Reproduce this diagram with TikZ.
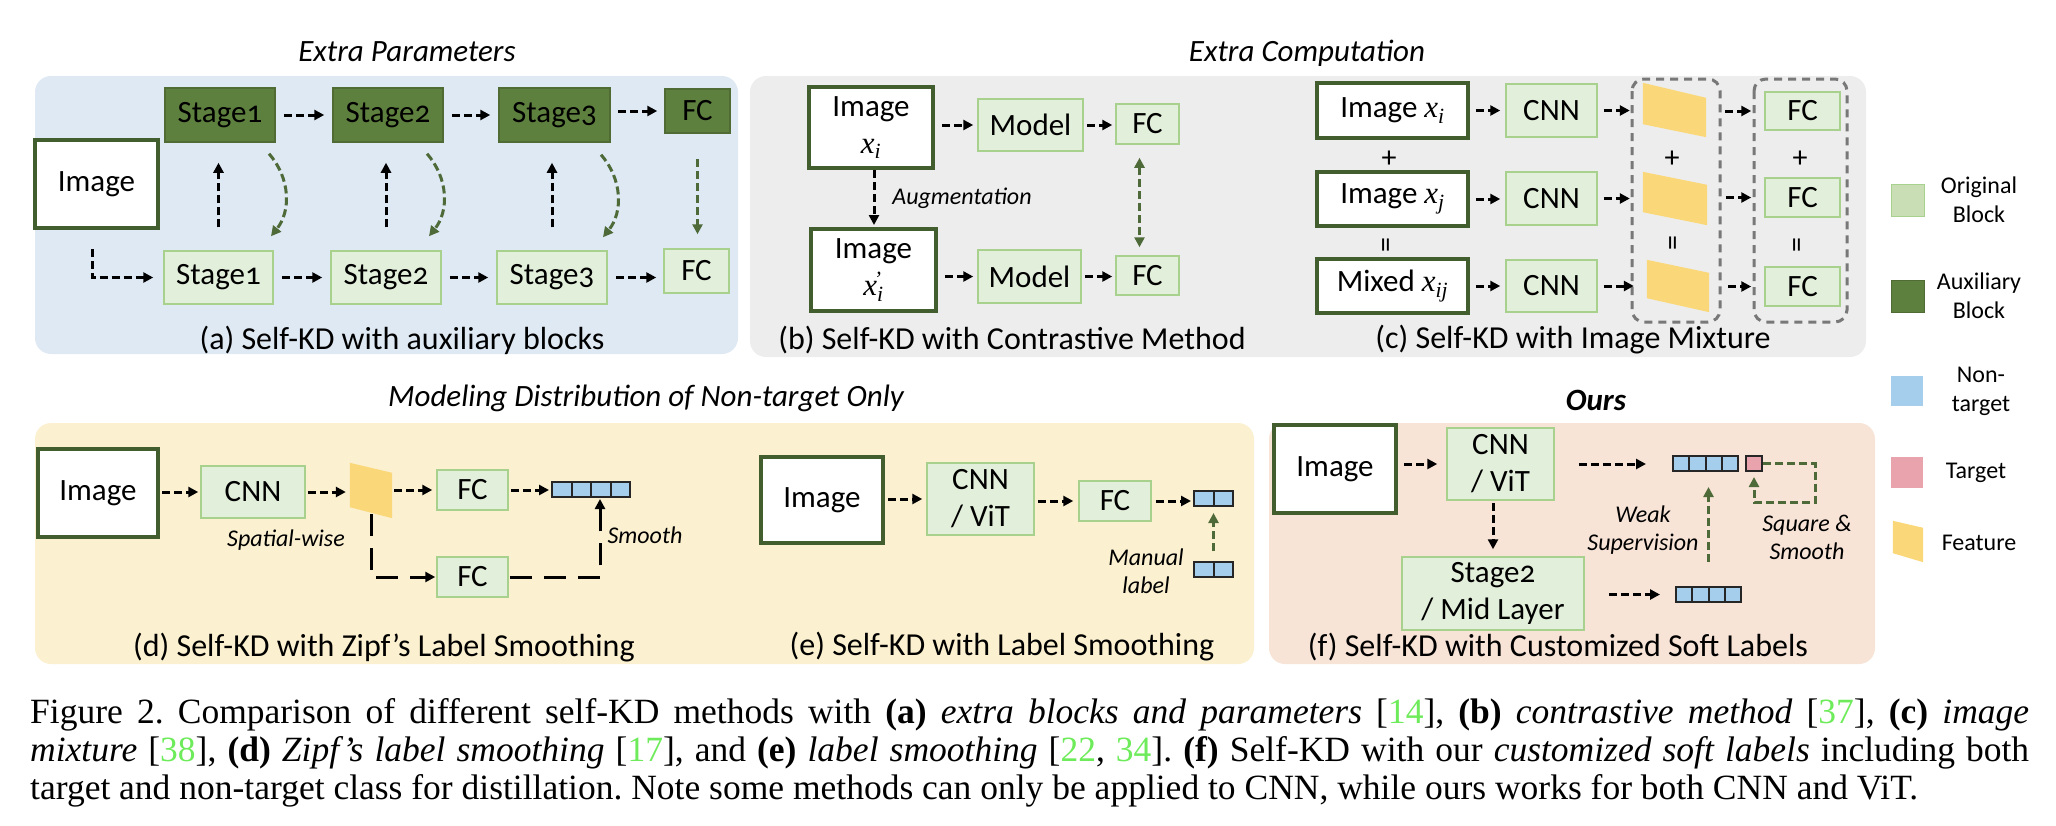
\documentclass[tikz,border=0pt]{standalone}
\usepackage{fontspec}
\setmainfont{Carlito}
\newfontfamily\tnr{Liberation Serif}
\usetikzlibrary{arrows.meta,calc}

\definecolor{bgA}{RGB}{222,233,244}
\definecolor{bgB}{RGB}{237,237,237}
\definecolor{bgD}{RGB}{251,240,207}
\definecolor{bgF}{RGB}{248,228,214}
\definecolor{origF}{RGB}{226,239,218}
\definecolor{origD}{RGB}{169,209,142}
\definecolor{auxF}{RGB}{94,128,62}
\definecolor{auxD}{RGB}{80,108,52}
\definecolor{imgD}{RGB}{66,94,46}
\definecolor{gArr}{RGB}{78,106,56}
\definecolor{cellF}{RGB}{164,206,236}
\definecolor{tgtF}{RGB}{232,163,172}
\definecolor{featF}{RGB}{250,216,122}
\definecolor{boxG}{RGB}{120,120,120}
\definecolor{citeG}{RGB}{110,235,90}
\definecolor{legO}{RGB}{201,222,181}

\newcommand{\os}[1]{{\addfontfeatures{Numbers=OldStyle}#1}}
\newcommand{\xv}[1]{{\tnr\itshape x\textsubscript{#1}}}
\newcommand{\xvp}{{\tnr\itshape x\textsubscript{i}\llap{\textsuperscript{’}\hspace{2pt}}}}
\newcommand{\cg}[1]{\textcolor{citeG}{#1}}
\newcommand{\feat}[3]{\fill[featF] (#1.north west) -- ($(#1.north east)+(0,#2)$) -- (#1.south east) -- ($(#1.south west)+(0,-#3)$) -- cycle;}

\tikzset{
 txt/.style={font=\fontsize{31}{37}\selectfont, align=center, inner sep=0pt},
 orig/.style={txt, rectangle, fill=origF, draw=origD, line width=1.5pt},
 aux/.style={txt, rectangle, fill=auxF, draw=auxD, line width=1.5pt},
 img/.style={txt, rectangle, fill=white, draw=imgD, line width=4pt},
 ttl/.style={font=\fontsize{31}{35}\selectfont\itshape, inner sep=0pt},
 sub/.style={font=\fontsize{32}{36}\selectfont, inner sep=0pt},
 lbl/.style={font=\fontsize{24}{28}\selectfont\itshape, inner sep=0pt, align=center},
 leg/.style={font=\fontsize{24}{29}\selectfont, inner sep=0pt, align=center},
 sym/.style={font=\fontsize{30}{30}\selectfont, inner sep=0pt},
 arr/.style={draw=black, line width=3pt, dash pattern=on 8pt off 4pt, -{Triangle[length=10pt,width=10pt]}},
 garr/.style={draw=gArr, line width=3pt, dash pattern=on 8pt off 4pt, -{Triangle[length=10pt,width=10pt]}},
 longarr/.style={draw=black, line width=3pt, dash pattern=on 22pt off 12pt, -{Triangle[length=10pt,width=10pt]}},
 cellv/.style={rectangle, fill=cellF, draw=black!85, line width=2pt, minimum height=15pt, inner sep=0pt},
 cfour/.style={cellv, path picture={\foreach \k in {1,2,3}{\draw[line width=2pt, black!85] ($(path picture bounding box.south west)!\k/4!(path picture bounding box.south east)$) -- ($(path picture bounding box.north west)!\k/4!(path picture bounding box.north east)$);}}},
 ctwo/.style={cellv, path picture={\draw[line width=2pt, black!85] (path picture bounding box.south) -- (path picture bounding box.north);}},
 grp/.style={draw=boxG, line width=3pt, dash pattern=on 8pt off 6pt, rounded corners=12pt},
 ghost/.style={inner sep=0pt, rectangle},
 capl/.style={anchor=base west, inner sep=0pt, font=\tnr\fontsize{35.5}{38}\selectfont\frenchspacing},
}

\begin{document}
\begin{tikzpicture}[x=1pt,y=-1pt]
\useasboundingbox (0,0) rectangle (2056,825);

% ---------------- panel a
\fill[bgA, rounded corners=16pt] (35,76) rectangle (738,354);
\node[ttl] (tA) at (407,52) {Extra Parameters};
\node[img, minimum width=123pt, minimum height=88pt] (imA) at (96.5,184) {Image};
\node[aux, minimum width=110pt, minimum height=54pt] (a1) at (220,115) {Stage\os{1}};
\node[aux, minimum width=110pt, minimum height=54pt] (a2) at (388,115) {Stage\os{2}};
\node[aux, minimum width=111pt, minimum height=54pt] (a3) at (554.5,115) {Stage\os{3}};
\node[aux, minimum width=65pt, minimum height=44pt] (afc) at (697.5,111) {FC};
\node[orig, minimum width=109pt, minimum height=53pt] (b1) at (218.5,277.5) {Stage\os{1}};
\node[orig, minimum width=110pt, minimum height=53pt] (b2) at (386,277.5) {Stage\os{2}};
\node[orig, minimum width=110pt, minimum height=53pt] (b3) at (552,277.5) {Stage\os{3}};
\node[orig, minimum width=65pt, minimum height=44pt] (bfc) at (696.5,271) {FC};
\draw[arr, shorten <=8pt, shorten >=8pt] (a1) -- (a2);
\draw[arr, shorten <=8pt, shorten >=8pt] (a2) -- (a3);
\draw[arr, shorten <=7pt, shorten >=7pt] (a3.east |- afc.west) -- (afc.west);
\draw[arr, shorten <=8pt, shorten >=8pt] (b1) -- (b2);
\draw[arr, shorten <=8pt, shorten >=8pt] (b2) -- (b3);
\draw[arr, shorten <=8pt, shorten >=7pt] (b3.east) -- (b3.east -| bfc.west);
\draw[arr, shorten <=23pt, shorten >=20pt] (b1.north) -- (b1.north |- a1.south);
\draw[arr, shorten <=23pt, shorten >=20pt] (b2.north) -- (b2.north |- a2.south);
\draw[arr, shorten <=23pt, shorten >=20pt] (b3.north) -- (b3.north |- a3.south);
\draw[garr] ($(a1.south)+(49,11)$) to[bend left=40] ($(b1.north)+(52.5,-14)$);
\draw[garr] ($(a2.south)+(39,11)$) to[bend left=40] ($(b2.north)+(43,-14)$);
\draw[garr] ($(a3.south)+(46.5,12)$) to[bend left=40] ($(b3.north)+(51,-13)$);
\draw[garr, shorten <=25pt, shorten >=14pt] (afc.south) -- (afc.south |- bfc.north);
\draw[arr, shorten >=10pt] ($(imA.south)+(-4.5,19)$) |- (b1.west);
\node[sub] (capA) at (402,340) {(a) Self-KD with auxiliary blocks};

% ---------------- panel b
\fill[bgB, rounded corners=16pt] (750,76) rectangle (1866,357);
\node[ttl] (tB) at (1307,53) {Extra Computation};
\node[img, minimum width=124pt, minimum height=81pt] (ib1) at (871,127.5) {Image\\\xv{i}};
\node[orig, minimum width=105pt, minimum height=52pt] (mb1) at (1030.5,125) {Model};
\node[orig, minimum width=63pt, minimum height=40pt] (fb1) at (1147.5,124) {FC};
\node[img, minimum width=125pt, minimum height=82pt] (ib2) at (873.5,270) {Image\\\xvp};
\node[orig, minimum width=103pt, minimum height=53pt] (mb2) at (1029.5,276.5) {Model};
\node[orig, minimum width=63pt, minimum height=39pt] (fb2) at (1147.5,275.5) {FC};
\draw[arr, shorten <=7pt, shorten >=4pt] (ib1.east |- mb1.west) -- (mb1.west);
\draw[arr, shorten <=3pt, shorten >=3pt] (mb1.east) -- (mb1.east -| fb1.west);
\draw[arr, shorten <=7pt, shorten >=4pt] (ib2.east |- mb2.west) -- (mb2.west);
\draw[arr, shorten <=3pt, shorten >=3pt] (mb2.east) -- (mb2.east -| fb2.west);
\coordinate (augS) at ($(ib1.south)+(3,0)$);
\draw[arr, shorten >=2pt] (augS) -- (augS |- ib2.north);
\node[lbl] (aug) at (962,198) {Augmentation};
\coordinate (dblS) at ($(fb1.south)+(-8,0)$);
\draw[garr, {Triangle[length=10pt,width=10pt]}-{Triangle[length=10pt,width=10pt]}, shorten <=13pt, shorten >=8pt] (dblS) -- (dblS |- fb2.north);
\node[sub] (capB) at (1012,340) {(b) Self-KD with Contrastive Method};

% ---------------- panel c
\node[img, minimum width=151pt, minimum height=55pt] (ic1) at (1392.5,110.5) {Image \xv{i}};
\node[img, minimum width=151pt, minimum height=54pt] (ic2) at (1392.5,199) {Image \xv{j}};
\node[img, minimum width=151pt, minimum height=54pt] (ic3) at (1392.5,286) {Mixed \xv{ij}};
\node[sym] (pc1) at (1389,159) {+};
\node[sym, rotate=90] (ec1) at (1389,245) {=};
\node[orig, minimum width=91pt, minimum height=53pt] (cc1) at (1551.5,110.5) {CNN};
\node[orig, minimum width=91pt, minimum height=53pt] (cc2) at (1551.5,198.5) {CNN};
\node[orig, minimum width=91pt, minimum height=52pt] (cc3) at (1551.5,286) {CNN};
\node[ghost, minimum width=63pt, minimum height=54pt] (fe1) at (1674.5,110) {};
\node[ghost, minimum width=64pt, minimum height=53pt] (fe2) at (1675,198.5) {};
\node[ghost, minimum width=62pt, minimum height=52pt] (fe3) at (1678,286) {};
\feat{fe1}{15}{13}
\feat{fe2}{13}{13}
\feat{fe3}{13}{14}
\node[sym] (pc2) at (1672,159) {+};
\node[sym, rotate=90] (ec2) at (1676,243) {=};
\node[orig, minimum width=75pt, minimum height=38pt] (fc1) at (1802.5,111) {FC};
\node[orig, minimum width=75pt, minimum height=39pt] (fc2) at (1802.5,197.5) {FC};
\node[orig, minimum width=75pt, minimum height=39pt] (fc3) at (1802.5,286.5) {FC};
\node[sym] (pc3) at (1800,159) {+};
\node[sym, rotate=90] (ec3) at (1800,245) {=};
\draw[grp] (1632,79) rectangle (1720,322);
\draw[grp] (1754,79) rectangle (1847,322);
\foreach \k in {1,2,3}{
  \draw[arr, shorten <=6pt, shorten >=5pt] (ic\k.east) -- (ic\k.east -| cc\k.west);
  \draw[arr, shorten <=6pt, shorten >=13pt] (cc\k.east) -- (cc\k.east -| fe\k.west);
  \draw[arr, shorten <=19pt, shorten >=13pt] (fe\k.east |- fc\k.west) -- (fc\k.west);
}
\node[sub] (capC) at (1573,340) {(c) Self-KD with Image Mixture};

% ---------------- legend
\node[rectangle, fill=legO, draw=origD, line width=1pt, minimum width=33pt, minimum height=32pt] (lo) at (1907.5,200) {};
\node[leg] (lot) at (1979,200) {Original\\Block};
\node[rectangle, fill=auxF, draw=auxD, line width=1pt, minimum width=33pt, minimum height=32pt] (la) at (1907.5,296) {};
\node[leg] (lat) at (1979,296) {Auxiliary\\Block};
\node[rectangle, fill=cellF, minimum width=32pt, minimum height=30pt] (ln) at (1907,391) {};
\node[leg] (lnt) at (1981,391) {Non-\\target};
\node[rectangle, fill=tgtF, minimum width=32pt, minimum height=31pt] (lt) at (1907,472.5) {};
\node[leg] (ltt) at (1976,473) {Target};
\node[ghost, minimum width=30pt, minimum height=41pt] (lf) at (1908,541.5) {};
\feat{lf}{7}{9}
\node[leg] (lft) at (1979,543) {Feature};

% ---------------- panel d
\fill[bgD, rounded corners=16pt] (35,423) rectangle (1254,664);
\node[ttl] (tD) at (646,398) {Modeling Distribution of Non-target Only};
\node[img, minimum width=120pt, minimum height=88pt] (id) at (98,493) {Image};
\node[orig, minimum width=104pt, minimum height=52pt] (cd) at (253,492) {CNN};
\node[ghost, minimum width=42pt, minimum height=55pt] (fd) at (371,490.5) {};
\feat{fd}{10}{11}
\node[orig, minimum width=71pt, minimum height=40pt] (fd1) at (472.5,490) {FC};
\node[cfour, minimum width=78pt] (vd) at (591,489.5) {};
\node[orig, minimum width=71pt, minimum height=40pt] (fd2) at (472.5,577) {FC};
\draw[arr, shorten <=2pt, shorten >=2pt] (id.east |- cd.west) -- (cd.west);
\draw[arr, shorten <=2pt, shorten >=4pt] (cd.east) -- (cd.east -| fd.west);
\draw[arr, shorten <=2pt, shorten >=4pt] (fd.east |- fd1.west) -- (fd1.west);
\draw[arr, shorten <=2pt, shorten >=2pt] (fd1.east) -- (fd1.east -| vd.west);
\draw[longarr, shorten >=1pt] ($(fd.south)+(0,-4)$) |- (fd2.west);
\coordinate (vdS) at ($(vd.south)+(9,0)$);
\draw[longarr, shorten <=1pt, shorten >=1pt] (fd2.east) -| (vdS);
\node[lbl] (spw) at (286,540) {Spatial-wise};
\node[lbl] (smo) at (645,535) {Smooth};
\node[sub] (capD) at (384,648) {(d) Self-KD with Zipf’s Label Smoothing};

% ---------------- panel e
\node[img, minimum width=122pt, minimum height=86pt] (ie) at (822,500) {Image};
\node[orig, minimum width=107pt, minimum height=72pt] (ce) at (980.5,499) {CNN\\/ ViT};
\node[orig, minimum width=72pt, minimum height=40pt] (fce) at (1115,501) {FC};
\node[ctwo, minimum width=39pt] (ve1) at (1213.5,498.5) {};
\node[ctwo, minimum width=39pt] (ve2) at (1213.5,569.5) {};
\draw[arr, shorten <=3pt, shorten >=4pt] (ie.east |- ce.west) -- (ce.west);
\draw[arr, shorten <=3pt, shorten >=5pt] (ce.east |- fce.west) -- (fce.west);
\draw[arr, shorten <=4pt, shorten >=2pt] (fce.east) -- (fce.east -| ve1.west);
\draw[garr, shorten <=10pt, shorten >=6pt] (ve2.north) -- (ve1.south);
\node[lbl] (ml) at (1146,571) {Manual\\label};
\node[sub] (capE) at (1002,647) {(e) Self-KD with Label Smoothing};

% ---------------- panel f
\fill[bgF, rounded corners=16pt] (1269,423) rectangle (1875,664);
\node[ttl, font=\fontsize{31}{35}\selectfont\bfseries\itshape] (tF) at (1596,400) {Ours};
\node[img, minimum width=122pt, minimum height=88pt] (iF) at (1335,469) {Image};
\node[orig, minimum width=107pt, minimum height=72pt] (cF) at (1500.5,464) {CNN\\/ ViT};
\node[orig, minimum width=182pt, minimum height=73pt] (sF) at (1493,593.5) {Stage\os{2}\\/ Mid Layer};
\node[cfour, minimum width=65pt] (vF1) at (1705.5,463.5) {};
\node[cellv, fill=tgtF, minimum width=16pt] (tF1) at (1754,463.5) {};
\node[cfour, minimum width=65pt] (vF2) at (1708.5,594.5) {};
\draw[arr, shorten <=6pt, shorten >=9pt] (iF.east |- cF.west) -- (cF.west);
\draw[arr, shorten <=24pt, shorten >=26pt] (cF.east) -- (cF.east -| vF1.west);
\draw[arr, shorten <=2pt, shorten >=7pt] (sF.north |- cF.south) -- (sF.north);
\draw[arr, shorten <=24pt, shorten >=15pt] (sF.east |- vF2.west) -- (vF2.west);
\draw[garr, shorten <=24pt, shorten >=15pt] (vF2.north) -- (vF2.north |- vF1.south);
\draw[garr, shorten >=5pt] (tF1.east) -- ++(52,0) -- ++(0,38.5) -| (tF1.south);
\node[lbl] (ws) at (1643,530) {Weak\\Supervision};
\node[lbl] (ss) at (1807,537) {Square \&\\Smooth};
\node[sub] (capF) at (1558,647) {(f) Self-KD with Customized Soft Labels};

% ---------------- caption
\node[capl] (cap1) at (30,723) {\makebox[1999pt][s]{Figure 2. Comparison of different self-KD methods with \textbf{(a)} \textit{extra blocks and parameters} [\cg{14}], \textbf{(b)} \textit{contrastive method} [\cg{37}], \textbf{(c)} \textit{image}}};
\node[capl] (cap2) at (30,761) {\makebox[1999pt][s]{\textit{mixture} [\cg{38}], \textbf{(d)} \textit{Zipf’s label smoothing} [\cg{17}], and \textbf{(e)} \textit{label smoothing} [\cg{22}, \cg{34}]. \textbf{(f)} Self-KD with our \textit{customized soft labels} including both}};
\node[capl] (cap3) at (30,799) {target and non-target class for distillation. Note some methods can only be applied to CNN, while ours works for both CNN and ViT.};
\end{tikzpicture}
\end{document}
